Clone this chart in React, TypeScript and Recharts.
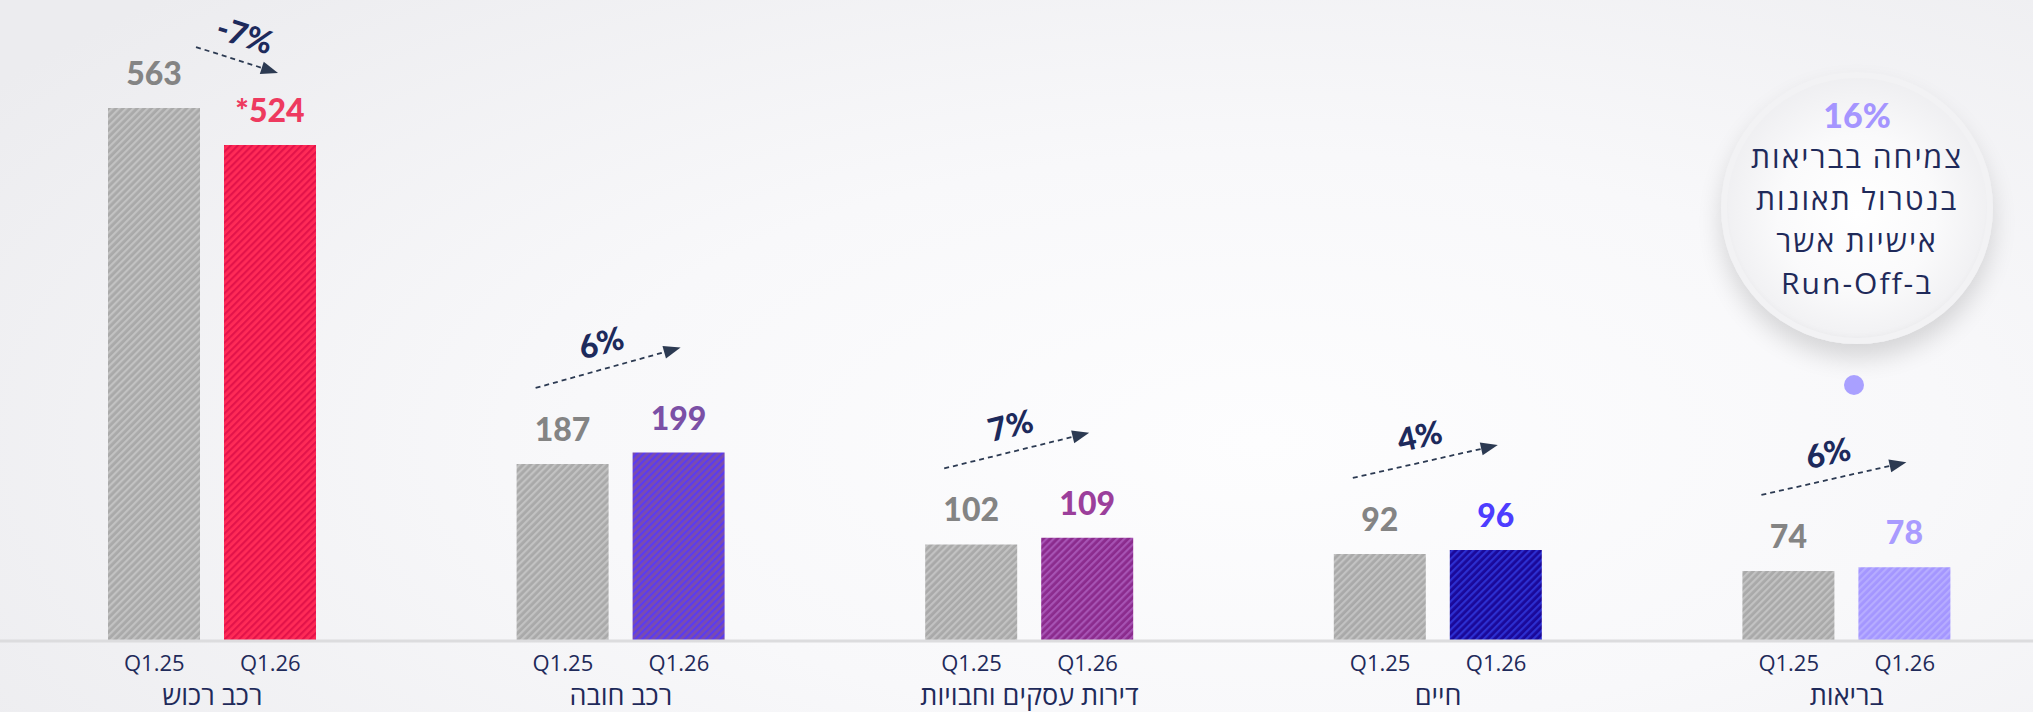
import { BarChart, Bar, XAxis, YAxis, LabelList, Cell } from 'recharts';

const categories = ['רכב רכוש', 'רכב חובה', 'דירות עסקים וחבויות', 'חיים', 'בריאות'];
const q125 = [563, 187, 102, 92, 74];
const q126 = [524, 199, 109, 96, 78];
const q126Labels = ['*524', '199', '109', '96', '78'];
const changeLabels = ['-7%', '6%', '7%', '4%', '6%'];
const changeSign = [-1, 1, 1, 1, 1];
const periods = ['Q1.25', 'Q1.26'];
const bubblePct = '16%';
const bubbleLines = ['צמיחה בבריאות', 'בנטרול תאונות', 'אישיות אשר', 'ב-Run-Off'];

const data = categories.map((name, i) => ({ name, prev: q125[i], curr: q126[i] }));

// fill / stripe pairs for the hatched bars
const grayFill = ['#a9a9a9', '#c2c2c2'];
const currFills = [
  ['#ff2b57', '#e3134a'],
  ['#7a4cae', '#5b3bf0'],
  ['#8b2b8d', '#a653b3'],
  ['#1a0899', '#2c2fd0'],
  ['#a496ff', '#b6acff'],
];
const currText = ['#ee3a5f', '#7b50a6', '#9b3f9b', '#4d3dff', '#a99bff'];
const navy = '#1f2a5a';
const font = '"Open Sans", "DejaVu Sans", sans-serif';
const numFont = 'Lato, "Open Sans", sans-serif';

const BAR_HALF = 58; // half of barSize + barGap

function Tick(props: any) {
  const { x, y, payload } = props;
  return (
    <g>
      <text x={x - BAR_HALF} y={y + 30} textAnchor="middle" fontSize={22} fill={navy} fontFamily={font}>
        {periods[0]}
      </text>
      <text x={x + BAR_HALF} y={y + 30} textAnchor="middle" fontSize={22} fill={navy} fontFamily={font}>
        {periods[1]}
      </text>
      <text x={x} y={y + 64} textAnchor="middle" direction="rtl" fontSize={27} fill={navy} fontFamily={font}>
        {payload.value}
      </text>
    </g>
  );
}

function PrevLabel(props: any) {
  const { x, y, width, value } = props;
  return (
    <text x={x + width / 2} y={y - 23} textAnchor="middle" fontSize={32} fontWeight={900} fill="#848484" fontFamily={numFont}>
      {value}
    </text>
  );
}

function CurrLabel(props: any) {
  const { x, y, width, height, index } = props;
  const i = index ?? 0;
  const cx = x + width / 2;
  const base = y + height;
  // gray bar top, through the same scale ratio
  const prevTop = base - (height * q125[i]) / q126[i];
  const prevCx = cx - 2 * BAR_HALF;
  const up = changeSign[i] > 0;
  const sx = up ? prevCx - 27 : prevCx + 42;
  const sy = up ? prevTop - 76 : prevTop - 61;
  const ex = up ? cx + 2 : cx + 8;
  const ey = up ? y - 105 : y - 72;
  const ang = Math.atan2(ey - sy, ex - sx);
  const deg = (ang * 180) / Math.PI;
  const mx = (sx + ex) / 2 + Math.sin(ang) * 27;
  const my = (sy + ey) / 2 - Math.cos(ang) * 27;
  const hl = 17;
  const lx = ex - Math.cos(ang) * (hl - 2);
  const ly = ey - Math.sin(ang) * (hl - 2);
  return (
    <g>
      <text x={cx} y={y - 23} textAnchor="middle" fontSize={32} fontWeight={900} fill={currText[i]} fontFamily={numFont}>
        {q126Labels[i]}
      </text>
      <line x1={sx} y1={sy} x2={lx} y2={ly} stroke="#2c3a52" strokeWidth={1.8} strokeDasharray="5 4" />
      <polygon
        points={`${ex},${ey} ${ex - hl},${ey - 6.5} ${ex - hl},${ey + 6.5}`}
        transform={`rotate(${deg} ${ex} ${ey})`}
        fill="#2c3a52"
      />
      <text
        x={mx}
        y={my}
        textAnchor="middle"
        dominantBaseline="central"
        fontSize={32}
        fontWeight={900}
        fill="#1d2a5c"
        fontFamily={numFont}
        transform={`rotate(${deg} ${mx} ${my})`}
      >
        {changeLabels[i]}
      </text>
    </g>
  );
}

export default function App() {
  return (
    <div
      style={{
        position: 'relative',
        width: 2033,
        height: 712,
        overflow: 'hidden',
        background: 'radial-gradient(ellipse 75% 90% at 62% 62%, #fdfdfe 0%, #f8f8fa 45%, #ececef 100%)',
      }}
    >
      <style>{'body{margin:0;overflow:hidden}'}</style>
      <BarChart
        width={2051}
        height={712}
        data={data}
        margin={{ top: 73, right: 0, bottom: 0, left: 0 }}
        barSize={92}
        barGap={24}
      >
        <defs>
          <pattern id="hatch-gray" patternUnits="userSpaceOnUse" width="5" height="5" patternTransform="rotate(45)">
            <rect width="5" height="5" fill={grayFill[0]} />
            <rect width="2.2" height="5" fill={grayFill[1]} />
          </pattern>
          {currFills.map((c, i) => (
            <pattern key={i} id={`hatch-${i}`} patternUnits="userSpaceOnUse" width="5" height="5" patternTransform="rotate(45)">
              <rect width="5" height="5" fill={c[0]} />
              <rect width="2.2" height="5" fill={c[1]} />
            </pattern>
          ))}
        </defs>
        <XAxis
          dataKey="name"
          height={71}
          padding={{ left: 8, right: 0 }}
          tickLine={false}
          tickSize={0}
          tickMargin={0}
          axisLine={{ stroke: '#dcdcde', strokeWidth: 3 }}
          tick={<Tick />}
          interval={0}
        />
        <YAxis hide domain={[0, 600]} />
        <Bar dataKey="prev" fill="url(#hatch-gray)" isAnimationActive={false}>
          <LabelList dataKey="prev" content={<PrevLabel />} />
        </Bar>
        <Bar dataKey="curr" isAnimationActive={false}>
          {data.map((_, i) => (
            <Cell key={i} fill={`url(#hatch-${i})`} />
          ))}
          <LabelList dataKey="curr" content={<CurrLabel />} />
        </Bar>
      </BarChart>
      <div
        style={{
          position: 'absolute',
          left: 1857 - 136,
          top: 208 - 136,
          width: 272,
          height: 272,
          borderRadius: '50%',
          background: 'radial-gradient(circle at 50% 52%, #ffffff 0%, #fafafb 40%, #ebebee 80%, #e2e2e6 100%)',
          boxShadow: '0 14px 24px rgba(0,0,0,0.14), inset 0 0 0 6px #f2f2f4, inset 0 -4px 10px rgba(0,0,0,0.06)',
          display: 'flex',
          flexDirection: 'column',
          alignItems: 'center',
          fontFamily: font,
          color: navy,
        }}
      >
        <div style={{ marginTop: 22, fontFamily: numFont, fontWeight: 900, fontSize: 34, color: '#a595ff', lineHeight: '42px' }}>
          {bubblePct}
        </div>
        {bubbleLines.map((l, i) => (
          <div key={i} dir="rtl" style={{ fontSize: 30, lineHeight: '42px', letterSpacing: 2, whiteSpace: 'nowrap' }}>
            {l}
          </div>
        ))}
      </div>
      <div
        style={{
          position: 'absolute',
          left: 1854 - 10,
          top: 385 - 10,
          width: 20,
          height: 20,
          borderRadius: '50%',
          background: '#a9a0ff',
        }}
      />
    </div>
  );
}
